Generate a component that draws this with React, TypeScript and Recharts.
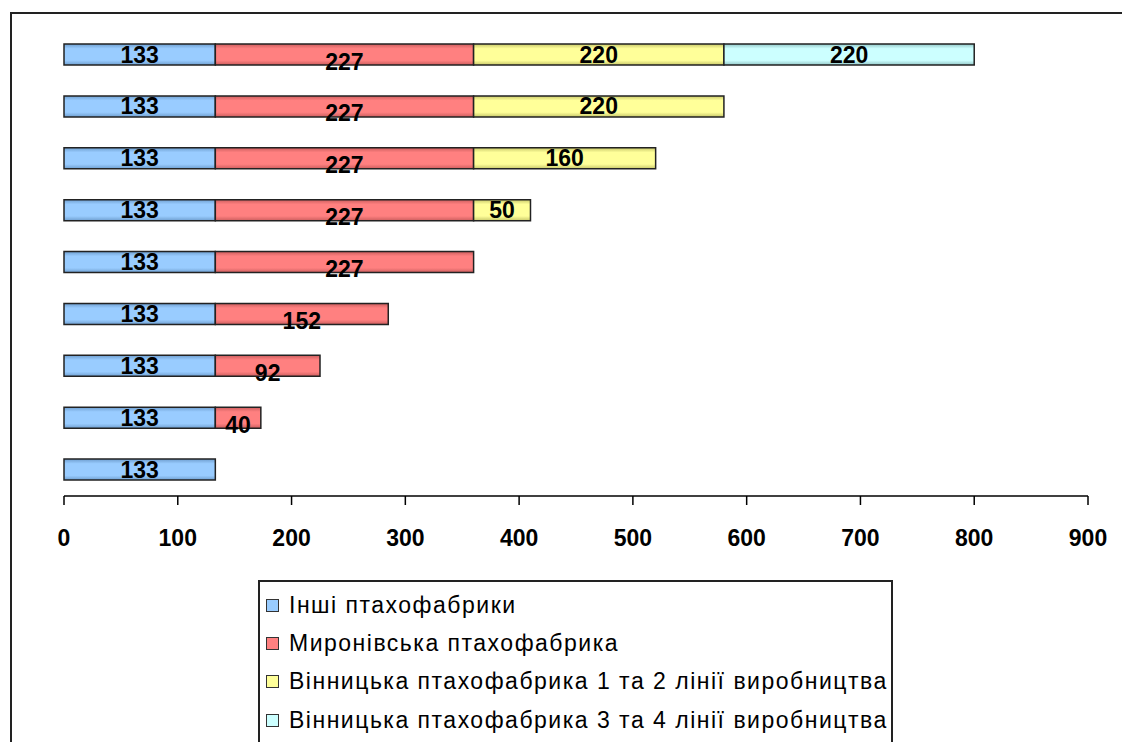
import { BarChart, Bar, XAxis, YAxis, LabelList } from "recharts";

// rows from top to bottom (no labels on the category axis)
const stages = ["9", "8", "7", "6", "5", "4", "3", "2", "1"];

const inshi = [133, 133, 133, 133, 133, 133, 133, 133, 133];
const myronivska = [227, 227, 227, 227, 227, 152, 92, 40, null];
const vinnytska12 = [220, 220, 160, 50, null, null, null, null, null];
const vinnytska34 = [220, null, null, null, null, null, null, null, null];

const xTicks = [0, 100, 200, 300, 400, 500, 600, 700, 800, 900];

const seriesNames = [
  "Інші птахофабрики",
  "Миронівська птахофабрика",
  "Вінницька птахофабрика 1 та 2 лінії виробництва",
  "Вінницька птахофабрика 3 та 4 лінії виробництва",
];
const seriesColors = ["#99CCFF", "#FF8080", "#FFFF99", "#CCFFFF"];
const seriesEdges = ["#6F9FD0", "#CC5E5E", "#C8C86A", "#94C8C8"];
const seriesKeys = ["inshi", "myronivska", "vinnytska12", "vinnytska34"];

const data = stages.map((stage, i) => ({
  stage,
  inshi: inshi[i],
  myronivska: myronivska[i],
  vinnytska12: vinnytska12[i],
  vinnytska34: vinnytska34[i],
}));

const font = "'Liberation Sans', Arial, sans-serif";

const makeLabel = (dy: number) => (props: any) => {
  const { value } = props;
  if (value == null) return null;
  const vb = props.viewBox || {};
  const x = Number(props.x ?? vb.x);
  const y = Number(props.y ?? vb.y);
  const w = Number(props.width ?? vb.width);
  const h = Number(props.height ?? vb.height);
  return (
    <text
      x={x + w / 2}
      y={y + h / 2 + dy}
      textAnchor="middle"
      dominantBaseline="central"
      fontSize={23}
      fontWeight="bold"
      fontFamily={font}
      fill="#000"
    >
      {value}
    </text>
  );
};

const labelOffsets = [0, 7, 0, 0];

export default function App() {
  return (
    <div
      style={{
        position: "relative",
        marginLeft: 2,
        marginTop: 4,
        width: 1115,
        height: 740,
        border: "2px solid #222",
        overflow: "hidden",
        background: "#fff",
      }}
    >
      <BarChart
        width={1115}
        height={560}
        data={data}
        layout="vertical"
        margin={{ top: 15, right: 39, left: 52, bottom: 0 }}
      >
        <defs>
          {seriesKeys.map((k, i) => (
            <linearGradient key={k} id={`g-${k}`} x1="0" y1="0" x2="0" y2="1">
              <stop offset="0%" stopColor={seriesEdges[i]} />
              <stop offset="22%" stopColor={seriesColors[i]} />
              <stop offset="78%" stopColor={seriesColors[i]} />
              <stop offset="100%" stopColor={seriesEdges[i]} />
            </linearGradient>
          ))}
        </defs>
        <XAxis
          type="number"
          domain={[0, 900]}
          ticks={xTicks}
          height={78}
          tickSize={9}
          tickMargin={25}
          axisLine={{ stroke: "#000", strokeWidth: 1.5 }}
          tickLine={{ stroke: "#000", strokeWidth: 1.5 }}
          tick={{ fontSize: 23, fontWeight: "bold", fill: "#000", fontFamily: font }}
        />
        <YAxis
          type="category"
          dataKey="stage"
          width={0}
          tick={false}
          tickLine={false}
          axisLine={{ stroke: "#000", strokeWidth: 1.5 }}
        />
        {seriesKeys.map((k, i) => (
          <Bar
            key={k}
            dataKey={k}
            name={seriesNames[i]}
            stackId="a"
            barSize={21}
            fill={`url(#g-${k})`}
            stroke="#222"
            strokeWidth={1.5}
            isAnimationActive={false}
          >
            <LabelList dataKey={k} content={makeLabel(labelOffsets[i])} />
          </Bar>
        ))}
      </BarChart>
      <div
        style={{
          position: "absolute",
          left: 246,
          top: 566,
          width: 635,
          height: 200,
          border: "2px solid #222",
          paddingTop: 4,
          boxSizing: "border-box",
          fontFamily: font,
          fontSize: 23,
        }}
      >
        {seriesNames.map((n, i) => (
          <div
            key={n}
            style={{ height: 38.3, display: "flex", alignItems: "center", paddingLeft: 6 }}
          >
            <span
              style={{
                display: "inline-block",
                width: 11,
                height: 11,
                background: seriesColors[i],
                border: "1.5px solid #333",
                marginRight: 10,
              }}
            />
            <span style={{ letterSpacing: 1.5, whiteSpace: "nowrap" }}>{n}</span>
          </div>
        ))}
      </div>
    </div>
  );
}
